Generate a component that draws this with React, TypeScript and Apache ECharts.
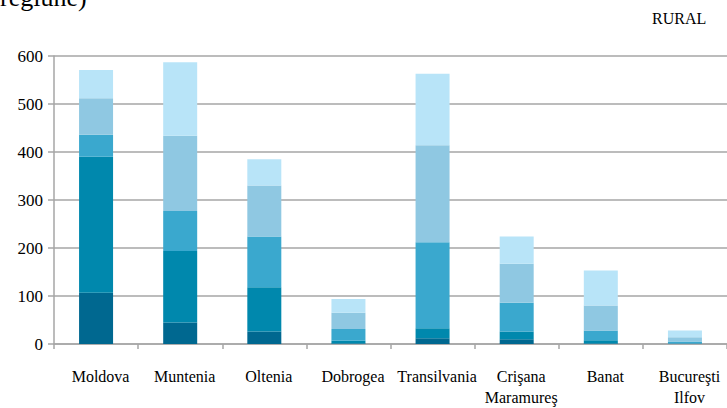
import React, { useEffect, useRef } from "react";
import * as echarts from "echarts";

const categories = ["Moldova", "Muntenia", "Oltenia", "Dobrogea", "Transilvania", "Crişana\nMaramureş", "Banat", "Bucureşti\nIlfov"];
const s1 = [107, 45, 26, 1, 12, 10, 1, 0.5];
const s2 = [283, 149, 92, 6, 21, 16, 7, 0.5];
const s3 = [46, 83, 106, 24, 179, 60, 20, 4];
const s4 = [76, 157, 106, 34, 202, 81, 52, 9];
const s5 = [59, 153, 55, 29, 149, 57, 73, 14];
const seriesData = [s1, s2, s3, s4, s5];
const colors = ["#006890", "#0088ad", "#3aa8ce", "#8fc8e2", "#b8e4f8"];
const yTicks = [0, 100, 200, 300, 400, 500, 600];

const FONT = "'Liberation Serif', 'DejaVu Serif', serif";

export default function App() {
  const ref = useRef<HTMLDivElement>(null);
  useEffect(() => {
    if (!ref.current) return;
    const chart = echarts.init(ref.current, null, { renderer: "svg" });
    chart.setOption({
      animation: false,
      backgroundColor: "#ffffff",
      grid: { left: 54, right: -2, top: 56, bottom: 58, containLabel: false },
      graphic: [
        { type: "text", left: 0, top: -16, style: { text: "regiune)", font: `26px ${FONT}`, fill: "#000" } },
        { type: "text", left: 652, top: 10, style: { text: "RURAL", font: `16px ${FONT}`, fill: "#000" } },
      ],
      xAxis: {
        type: "category",
        data: categories,
        axisLine: { lineStyle: { color: "#a6a6a6", width: 1.5 } },
        axisTick: { show: true, length: 5, lineStyle: { color: "#a6a6a6", width: 1.5 } },
        axisLabel: {
          color: "#000",
          fontFamily: FONT,
          fontSize: 16,
          margin: 22,
          lineHeight: 21,
          interval: 0,
          padding: [0, 0, 0, 9],
        },
      },
      yAxis: {
        type: "value",
        min: 0,
        max: 600,
        interval: 100,
        axisLine: { show: true, lineStyle: { color: "#a6a6a6", width: 1.5 } },
        axisTick: { show: true, length: 6, lineStyle: { color: "#a6a6a6", width: 1.5 } },
        axisLabel: {
          color: "#000",
          fontFamily: FONT,
          fontSize: 17,
          margin: 11,
          formatter: (v: number) => (yTicks.includes(v) ? String(v) : ""),
        },
        splitLine: { lineStyle: { color: "#a6a6a6", width: 1.5 } },
      },
      series: seriesData.map((d, i) => ({
        type: "bar",
        stack: "total",
        data: d,
        barWidth: 34,
        itemStyle: { color: colors[i] },
      })),
    });
    return () => chart.dispose();
  }, []);
  return <div ref={ref} style={{ width: 727, height: 408, position: "absolute", left: 0, top: 0 }} />;
}
